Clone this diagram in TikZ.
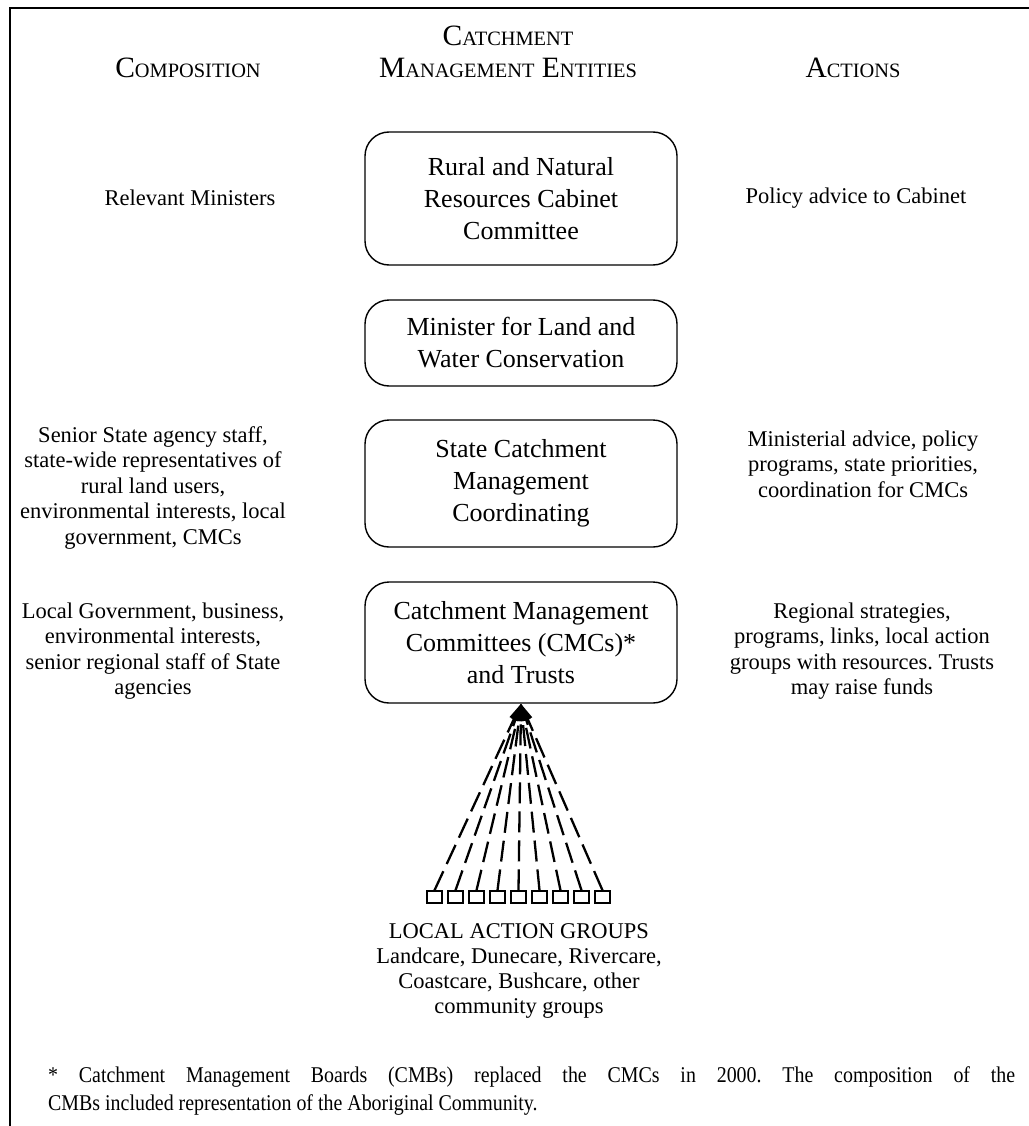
\documentclass[tikz,border=0pt]{standalone}
\usepackage{fontspec}
\setmainfont{Liberation Serif}
\newfontfamily\notefont[FakeStretch=0.885]{Liberation Serif}
\usetikzlibrary{arrows.meta}
\frenchspacing
% reduced capitals for the column headings
\newcommand\hdsc[1]{{\fontsize{20.4}{24}\selectfont #1}}
\begin{document}
\begin{tikzpicture}[x=1pt,y=-1pt,
  entity/.style={draw, line width=1.4pt, rounded corners=24pt, minimum width=312pt,
    align=center, font=\fontsize{26}{32}\selectfont, inner sep=0pt},
  side/.style={align=center, font=\fontsize{22.5}{25.5}\selectfont, inner sep=0pt},
  head/.style={align=center, font=\fontsize{29.5}{32}\selectfont, inner sep=0pt},
  grp/.style={draw, line width=1.4pt, minimum width=15pt, minimum height=12pt, inner sep=0pt},
  feed/.style={line width=2.3pt, dash pattern=on 21pt off 8pt,
    -{Triangle[length=17pt,width=9pt]}},
  note/.style={font=\notefont\fontsize{22.5}{28}\selectfont, inner sep=0pt, anchor=base west}]
\useasboundingbox (0,0) rectangle (1028,1126);

% outer frame
\draw[line width=2.2pt] (10,1130) -- (10,8) -- (1032,8);

% column headings
\node[head, anchor=base] (hcomp) at (188,78) {C\hdsc{OMPOSITION}};
\node[head, anchor=base] (hent1) at (508,46) {C\hdsc{ATCHMENT}};
\node[head, anchor=base] (hent2) at (508,78) {M\hdsc{ANAGEMENT} E\hdsc{NTITIES}};
\node[head, anchor=base] (hact) at (853,78) {A\hdsc{CTIONS}};

% management entities
\node[entity, minimum height=133pt] (b1) at (521,198.5) {Rural and Natural\\Resources Cabinet\\Committee};
\node[entity, minimum height=86pt] (b2) at (521,343) {Minister for Land and\\Water Conservation};
\node[entity, minimum height=127pt] (b3) at (521,483.5) {State Catchment\\Management\\Coordinating};
\node[entity, minimum height=121pt] (b4) at (521,642.5) {Catchment Management\\Committees (CMCs)*\\and Trusts};

% composition column
\node[side] (c1) at (190,198) {Relevant Ministers};
\node[side] (c3) at (153,488) {Senior State agency staff,\\state-wide representatives of\\rural land users,\\environmental interests, local\\government, CMCs};
\node[side] (c4) at (153,651) {Local Government, business,\\environmental interests,\\senior regional staff of State\\agencies};

% actions column
\node[side] (a1) at (856,198) {Policy advice to Cabinet};
\node[side] (a3) at (863,464) {Ministerial advice, policy\\programs, state priorities,\\coordination for CMCs};
\node[side] (a4) at (862,651) {Regional strategies,\\programs, links, local action\\groups with resources. Trusts\\may raise funds};

% local action groups feeding the committees
\foreach \i in {0,...,8}
  \node[grp] (g\i) at ({434.5+21*\i},897) {};
\foreach \i in {0,...,8}
  \draw[feed] (g\i.north) -- (b4.south);

\node[side, font=\fontsize{22.5}{25}\selectfont] (grp) at (519,971) {LOCAL ACTION GROUPS\\Landcare, Dunecare, Rivercare,\\Coastcare, Bushcare, other\\community groups};

% footnote
\node[note] (n1) at (48,1082) {\makebox[967pt][s]{* Catchment Management Boards (CMBs) replaced the CMCs in 2000. The composition of the}};
\node[note] (n2) at (48,1110) {CMBs included representation of the Aboriginal Community.};
\end{tikzpicture}
\end{document}
